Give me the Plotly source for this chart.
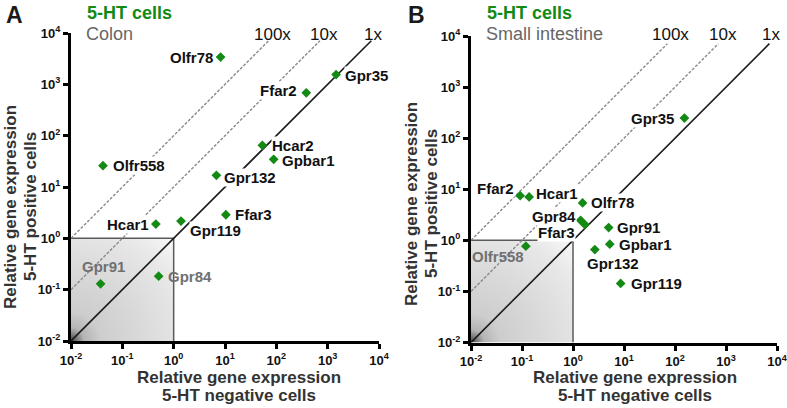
import base64
import numpy as np
import plotly.graph_objects as go

# ---------------- data ----------------
colon_genes = ["Olfr78", "Gpr35", "Ffar2", "Hcar2", "Gpbar1", "Olfr558",
               "Gpr132", "Hcar1", "Gpr119", "Ffar3", "Gpr91", "Gpr84"]
colon_neg = [8.2, 1460, 383, 53.5, 88.7, 0.042, 6.8, 0.45, 1.39, 10.4, 0.0377, 0.51]
colon_pos = [3390, 1550, 684, 64.8, 34.7, 26, 16.9, 1.9, 2.17, 2.88, 0.13, 0.183]

si_genes = ["Gpr35", "Ffar2", "Hcar1", "Olfr78", "Gpr84", "Ffar3",
            "Gpr91", "Gpbar1", "Gpr132", "Gpr119", "Olfr558"]
si_neg = [153, 0.092, 0.138, 1.54, 1.41, 1.71, 5.0, 5.26, 2.68, 8.6, 0.119]
si_pos = [247, 7.5, 7.06, 5.4, 2.47, 2.04, 1.78, 0.84, 0.66, 0.143, 0.77]

fold_lines = [1, 10, 100]
fold_labels = ["1x", "10x", "100x"]
tick_values = [0.01, 0.1, 1, 10, 100, 1000, 10000]
tick_labels = ["10<sup>-2</sup>", "10<sup>-1</sup>", "10<sup>0</sup>", "10<sup>1</sup>",
               "10<sup>2</sup>", "10<sup>3</sup>", "10<sup>4</sup>"]
threshold = 1.0
axis_min = 0.01
line_top_log = 3.85

# ---------------- styling ----------------
W, H = 787, 408
FONT = "Arial, 'Liberation Sans', sans-serif"
GREEN = "#138a13"
GRAY_LABEL = "#707070"

# label placement: (xanchor, xshift, yshift)
colon_lab = {
    "Olfr78": ("right", -7, 0), "Gpr35": ("left", 8, -1), "Ffar2": ("right", -8, 2),
    "Hcar2": ("left", 9, 0), "Gpbar1": ("left", 7, -1), "Olfr558": ("left", 9, 0),
    "Gpr132": ("left", 7, -2), "Hcar1": ("right", -6, 0), "Gpr119": ("left", 8, -9),
    "Ffar3": ("left", 8, 0), "Gpr91": ("center", 3, 17), "Gpr84": ("left", 8, 0),
}
si_lab = {
    "Gpr35": ("right", -9, 0), "Ffar2": ("right", -5, 7), "Hcar1": ("left", 6, 3),
    "Olfr78": ("left", 7, 0), "Gpr84": ("right", -4, 4), "Ffar3": ("right", -9, -8),
    "Gpr91": ("left", 7, 0), "Gpbar1": ("left", 8, 0), "Gpr132": ("center", 18, -14),
    "Gpr119": ("left", 9, 0), "Olfr558": ("right", -1, -10),
}

panels = [
    dict(genes=colon_genes, neg=colon_neg, pos=colon_pos, lab=colon_lab,
         xa="x", ya="y", xdom=(71, 379), ydom=(33, 341), letter="A", letter_x=14,
         tissue="Colon", title_x=239, xt_y=(377, 395), yt_x=(10, 30), yt_y=207,
         fold_x={"100x": 272, "10x": 324, "1x": 373}),
    dict(genes=si_genes, neg=si_neg, pos=si_pos, lab=si_lab,
         xa="x2", ya="y2", xdom=(471, 777), ydom=(36, 342.5), letter="B", letter_x=416,
         tissue="Small intestine", title_x=635, xt_y=(377, 395), yt_x=(411, 431), yt_y=204,
         fold_x={"100x": 670, "10x": 723, "1x": 771}),
]

svg = """<svg xmlns='http://www.w3.org/2000/svg' width='200' height='200' viewBox='0 0 200 200' preserveAspectRatio='none'>
<defs><radialGradient id='g' cx='0' cy='200' r='283' gradientUnits='userSpaceOnUse'>
<stop offset='0' stop-color='#3c3c3c'/>
<stop offset='0.035' stop-color='#707070'/>
<stop offset='0.09' stop-color='#b4b4b4'/>
<stop offset='0.2' stop-color='#cdcdcd'/>
<stop offset='0.5' stop-color='#dadada'/>
<stop offset='0.8' stop-color='#e8e8e8'/>
<stop offset='1' stop-color='#f8f8f8'/>
</radialGradient></defs>
<rect width='200' height='200' fill='url(#g)'/></svg>"""
svg_uri = "data:image/svg+xml;base64," + base64.b64encode(svg.encode()).decode()


def pp(x, y):
    return x / W, 1 - y / H


fig = go.Figure()
annotations = []
images = []
layout_axes = {}

for i, p in enumerate(panels):
    xa, ya = p["xa"], p["ya"]
    # shaded square border
    fig.add_trace(go.Scatter(x=[axis_min, threshold, threshold], y=[threshold, threshold, axis_min],
                             mode="lines", line=dict(color="#5a5a5a", width=1.5),
                             xaxis=xa, yaxis=ya, hoverinfo="skip", showlegend=False))
    # fold-change lines
    for f in fold_lines:
        top = 10 ** line_top_log
        x_end = top / f
        fig.add_trace(go.Scatter(
            x=[axis_min, x_end], y=[axis_min * f, x_end * f], mode="lines",
            line=dict(color="#1a1a1a" if f == 1 else "#8a8a8a", width=1.6 if f == 1 else 1.4,
                      dash="solid" if f == 1 else "3px,1.6px"),
            xaxis=xa, yaxis=ya, hoverinfo="skip", showlegend=False))
    # markers
    fig.add_trace(go.Scatter(x=p["neg"], y=p["pos"], mode="markers",
                             marker=dict(symbol="diamond", size=7.5, color=GREEN),
                             text=p["genes"], xaxis=xa, yaxis=ya, showlegend=False))
    # gene labels
    for g, xn, yp in zip(p["genes"], p["neg"], p["pos"]):
        anch, xs, ys = p["lab"][g]
        inside = xn < threshold and yp < threshold
        ann = dict(
            x=np.log10(xn), y=np.log10(yp), xref=xa, yref=ya, text="<b>%s</b>" % g,
            showarrow=False, xanchor=anch, yanchor="middle", xshift=xs, yshift=ys,
            font=dict(family=FONT, size=15, color=GRAY_LABEL if inside else "#111111"),
            borderpad=0)
        if not inside:
            ann["bgcolor"] = "white"
        annotations.append(ann)
    # gradient square
    frac = (np.log10(threshold) - np.log10(axis_min)) / 6
    images.append(dict(source=svg_uri, xref=xa + " domain", yref=ya + " domain",
                       x=0, y=0, xanchor="left", yanchor="bottom",
                       sizex=frac, sizey=frac, sizing="stretch", layer="below"))
    # axes
    x0, x1 = p["xdom"]
    yt, yb = p["ydom"]
    axcommon = dict(type="log", range=[-2, 4], tickvals=tick_values,
                    ticktext=["<b>%s</b>" % t for t in tick_labels],
                    tickfont=dict(family=FONT, size=13, color="#111111"),
                    showgrid=False, zeroline=False, showline=True, linewidth=3,
                    linecolor="black", ticks="outside", ticklen=5, tickwidth=2.5,
                    tickcolor="black", automargin=False, ticklabeloverflow="allow")
    suffix = "" if i == 0 else str(i + 1)
    layout_axes["xaxis" + suffix] = dict(axcommon, domain=[x0 / W, x1 / W], anchor=ya)
    layout_axes["yaxis" + suffix] = dict(axcommon, domain=[1 - yb / H, 1 - yt / H], anchor=xa)

    # panel texts
    annotations.append(dict(x=pp(p["letter_x"], 0)[0], y=pp(0, 15.5)[1],
                            xref="paper", yref="paper", text="<b>%s</b>" % p["letter"],
                            showarrow=False, xanchor="center", yanchor="middle",
                            font=dict(family=FONT, size=23, color="#1a1a1a")))
    annotations.append(dict(x=pp(x0 + 14, 0)[0], y=pp(0, 12.5)[1], xref="paper", yref="paper",
                            text="<b>5-HT cells</b>", showarrow=False, xanchor="left",
                            yanchor="middle", font=dict(family=FONT, size=18, color=GREEN)))
    annotations.append(dict(x=pp(x0 + 13, 0)[0], y=pp(0, 34)[1], xref="paper", yref="paper",
                            text=p["tissue"], showarrow=False, xanchor="left",
                            yanchor="middle", font=dict(family=FONT, size=18, color="#666666")))
    for lbl in fold_labels:
        annotations.append(dict(x=pp(p["fold_x"][lbl], 0)[0], y=pp(0, 34)[1], xref="paper",
                                yref="paper", text=lbl, showarrow=False, xanchor="center",
                                yanchor="middle", font=dict(family=FONT, size=17, color="#111111")))
    # axis titles
    for txt, yy in zip(["Relative gene expression", "5-HT negative cells"], p["xt_y"]):
        annotations.append(dict(x=pp(p["title_x"], 0)[0], y=pp(0, yy)[1], xref="paper",
                                yref="paper", text="<b>%s</b>" % txt, showarrow=False,
                                xanchor="center", yanchor="middle",
                                font=dict(family=FONT, size=17, color="#333333")))
    for txt, xx in zip(["Relative gene expression", "5-HT positive cells"], p["yt_x"]):
        annotations.append(dict(x=pp(xx, 0)[0], y=pp(0, p["yt_y"])[1], xref="paper",
                                yref="paper", text="<b>%s</b>" % txt, showarrow=False,
                                textangle=-90, xanchor="center", yanchor="middle",
                                font=dict(family=FONT, size=17, color="#333333")))

fig.update_layout(
    template="none",
    width=W, height=H, margin=dict(l=0, r=0, t=0, b=0, pad=0, autoexpand=False),
    paper_bgcolor="white", plot_bgcolor="white", showlegend=False,
    annotations=annotations, images=images, **layout_axes,
)
fig.write_html("out.html", config={"displayModeBar": False},
               post_script="document.body.style.margin='0px';")
